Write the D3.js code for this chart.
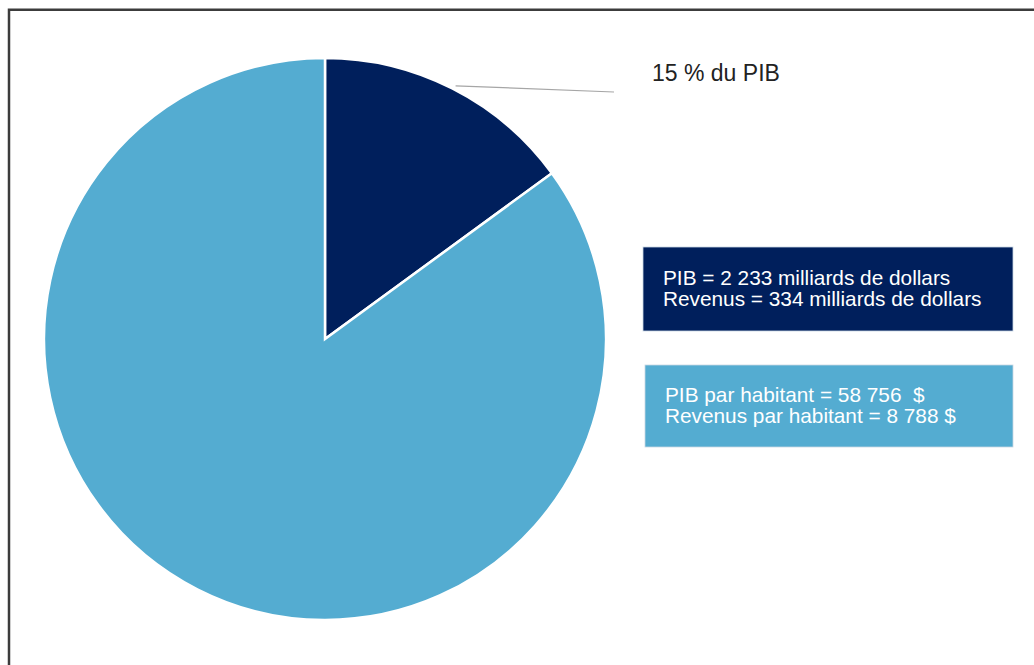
<!DOCTYPE html>
<html lang="fr">
<head>
<meta charset="utf-8">
<script src="https://cdn.jsdelivr.net/npm/d3@7"></script>
<style>
  html, body { margin: 0; padding: 0; background: #ffffff; }
  svg { display: block; font-family: "Liberation Sans", Arial, sans-serif; }
</style>
</head>
<body>
<svg id="chart" width="1034" height="665"></svg>
<script>
// Federal revenue as a share of GDP (billions of dollars)
const sliceNames = ["Revenus", "Reste du PIB"];
const gdpTotal = 2233;
const revenueTotal = 334;
const sliceValues = [revenueTotal, gdpTotal - revenueTotal];
const sliceColors = ["#001f5c", "#54acd1"];

const boxLinesDark = [
  "PIB = 2 233 milliards de dollars",
  "Revenus = 334 milliards de dollars"
];
const boxLinesLight = [
  "PIB par habitant = 58 756  $",
  "Revenus par habitant = 8 788 $"
];

const svg = d3.select("#chart");

// outer frame (its right and bottom edges run off the page)
svg.append("rect")
  .attr("x", 9).attr("y", 9.75)
  .attr("width", 1200).attr("height", 1000)
  .attr("fill", "none")
  .attr("stroke", "#3c3c3c")
  .attr("stroke-width", 2.5);

const cx = 325, cy = 339, radius = 281;

const pie = d3.pie().sort(null).value(d => d)(sliceValues);
const arc = d3.arc().innerRadius(0).outerRadius(radius);

const g = svg.append("g").attr("transform", `translate(${cx},${cy})`);

g.selectAll("path.slice")
  .data(pie)
  .join("path")
  .attr("class", "slice")
  .attr("d", arc)
  .attr("fill", (d, i) => sliceColors[i])
  .attr("stroke", "#ffffff")
  .attr("stroke-width", 2.5)
  .attr("stroke-linejoin", "miter");

// leader line from the revenue slice to its share label
const revSlice = pie[0];
const edge = d3.arc().innerRadius(radius + 3).outerRadius(radius + 3).centroid(revSlice);
const share = Math.round(revenueTotal / gdpTotal * 100);

svg.append("line")
  .attr("x1", cx + edge[0] + 2).attr("y1", cy + edge[1])
  .attr("x2", 614).attr("y2", 92)
  .attr("stroke", "#a6a6a6")
  .attr("stroke-width", 1.2);

svg.append("text")
  .attr("x", 652).attr("y", 81)
  .attr("font-size", 23)
  .attr("fill", "#222222")
  .text(`${share} % du PIB`);

// information boxes
function infoBox(x, y, w, h, fill, lines, tx, baselines) {
  svg.append("rect")
    .attr("x", x).attr("y", y).attr("width", w).attr("height", h)
    .attr("fill", fill)
    .attr("stroke", "#c9d7e3").attr("stroke-width", 0.8);
  svg.append("g").selectAll("text")
    .data(lines)
    .join("text")
    .attr("x", tx)
    .attr("y", (d, i) => baselines[i])
    .attr("font-size", 20.8)
    .attr("fill", "#ffffff")
    .style("white-space", "pre")
    .text(d => d);
}

infoBox(643, 247, 370, 84, sliceColors[0], boxLinesDark, 663, [285, 306]);
infoBox(645, 365, 368, 82, sliceColors[1], boxLinesLight, 665, [402, 423]);
</script>
</body>
</html>
